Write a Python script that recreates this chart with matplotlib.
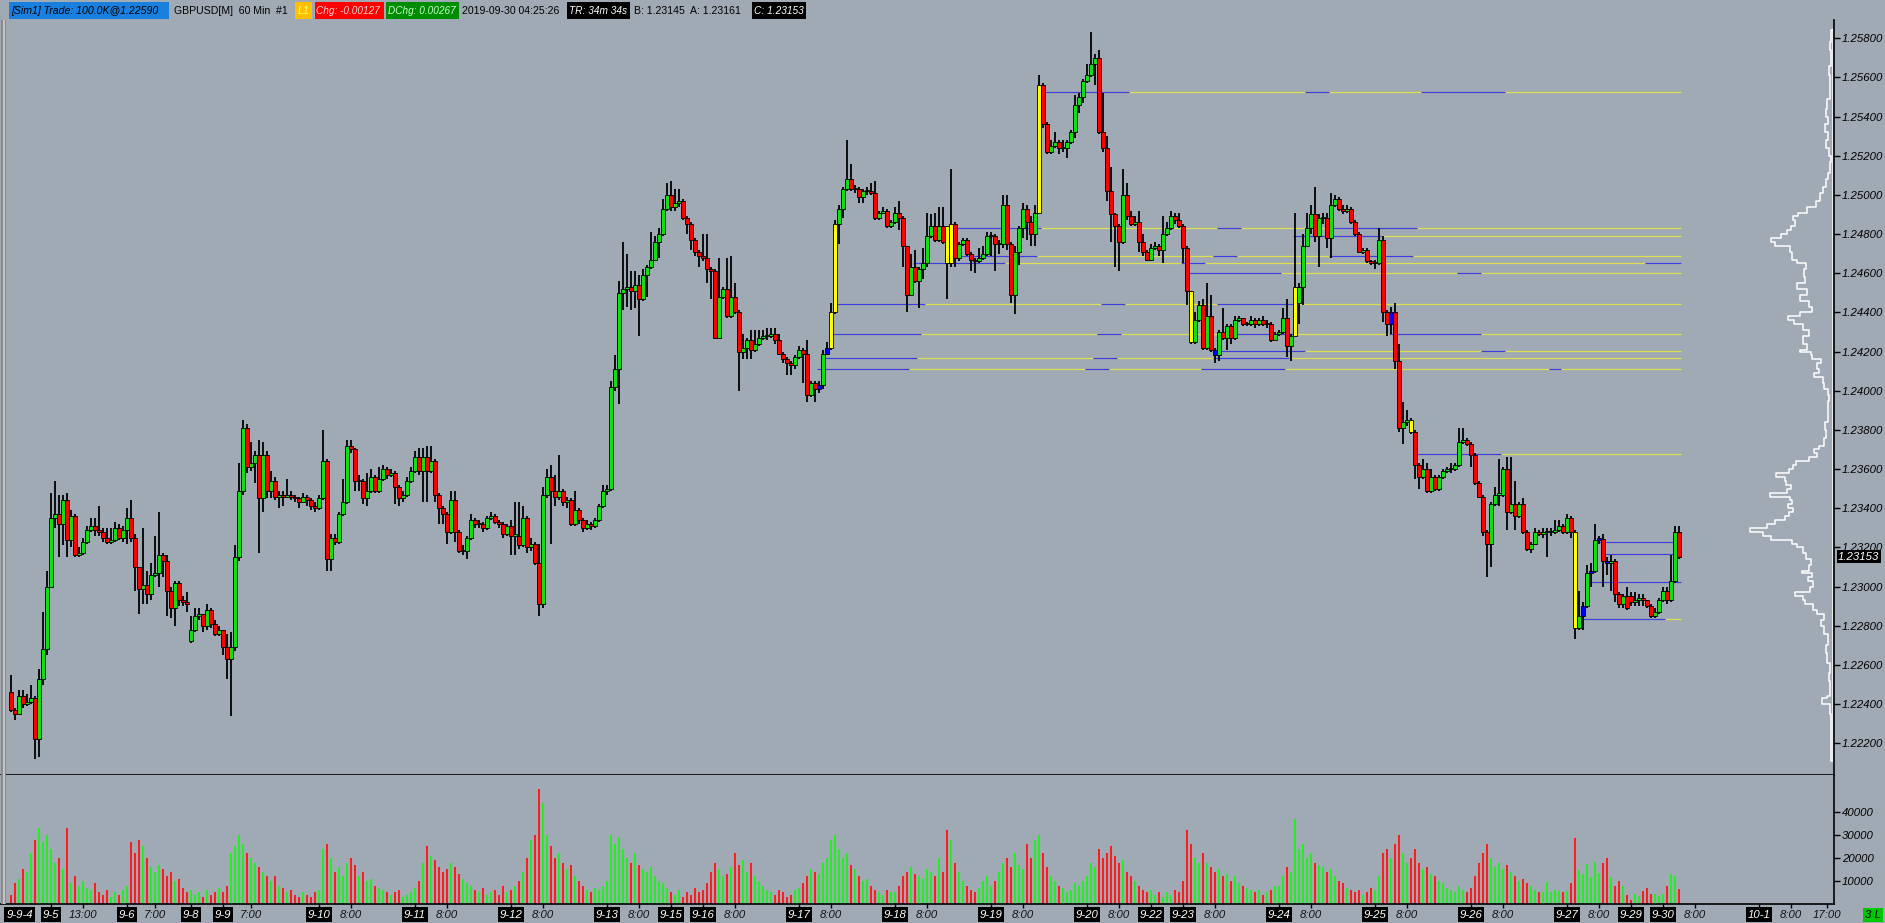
import numpy as np
import matplotlib.pyplot as plt
from matplotlib.patches import Rectangle

plt.rcParams['font.family'] = ['Liberation Sans', 'DejaVu Sans']

W, H = 1885, 923
BG = '#a0aab4'
GREEN = '#10e010'
RED = '#ff0000'
VGREEN = '#22ee22'
VRED = '#ff1c1c'

# ---- hourly GBPUSD bars, in pips above 1.20000 ----
close_p = [
    # 9-4
    237, 235, 244, 240, 241, 243, 222, 253, 268, 300,
    # 9-5
    335, 337, 332, 344, 324, 336, 316, 317, 323, 329, 331, 329, 328, 325, 323, 324, 330, 325, 329,
    # 9-6
    335, 325, 310, 299, 301, 296, 306, 307, 316, 313, 298, 289, 302, 293, 292, 291,
    # 9-8
    278, 285, 286, 280, 288, 281, 276, 278,
    # 9-9
    269, 263, 269, 315, 349, 381, 361, 363, 367, 345, 367, 349, 354, 346, 347, 346, 347, 346, 345, 343, 346, 344, 341, 340,
    # 9-10
    345, 364, 314, 325, 323, 337, 343, 372, 370, 354, 354, 345, 349, 356, 349, 355, 360, 357, 358, 351, 345, 347, 354, 359,
    # 9-11
    366, 359, 366, 359, 364, 347, 340, 337, 328, 344, 328, 318, 318, 325, 334, 332, 332, 330, 335, 336, 333, 332, 327, 331,
    # 9-12
    326, 326, 321, 335, 320, 322, 312, 291, 347, 356, 349, 346, 349, 343, 344, 332, 339, 334, 330, 332, 331, 334, 341, 349,
    # 9-13
    350, 402, 411, 450, 452, 453, 451, 454, 447, 459, 463, 467, 476, 480, 493, 500,
    # 9-15
    494, 496, 497, 488, 485, 477, 471, 469,
    # 9-16
    468, 462, 461, 427, 448, 452, 438, 448, 440, 420, 422, 426, 421, 424, 427, 428, 428, 429, 426, 419, 416, 414, 413, 417,
    # 9-17
    421, 419, 398, 404, 401, 403, 419, 422, 440, 485, 493, 503, 508, 503, 503, 499, 502, 502, 501, 488, 491, 492, 484, 486,
    # 9-18
    491, 488, 474, 449, 463, 456, 462, 465, 479, 484, 477, 484, 476, 465, 485, 468, 475, 477, 470, 467, 466, 468, 470, 479,
    # 9-19
    479, 475, 475, 495, 475, 449, 471, 483, 493, 486, 480, 491, 556, 536, 522, 525, 527, 524, 524, 527, 532, 546, 550, 558,
    # 9-20
    561, 567, 570, 532, 524, 502, 490, 484, 476, 500, 489, 485, 486, 476, 471, 467,
    # 9-22
    473, 474, 472, 480, 483, 489, 487, 484,
    # 9-23
    473, 451, 425, 436, 444, 422, 438, 421, 418, 430, 427, 433, 427, 436, 437, 434, 434, 436, 434, 436, 434, 434, 426, 429,
    # 9-24
    430, 437, 423, 428, 453, 453, 474, 483, 490, 479, 488, 488, 478, 495, 498, 493, 492, 493, 486, 480, 471, 472, 466, 465,
    # 9-25
    465, 477, 440, 434, 440, 415, 381, 384, 385, 379, 362, 356, 360, 349, 356, 350, 356, 359, 360, 360, 362, 374, 375, 373,
    # 9-26
    367, 353, 346, 328, 322, 342, 347, 347, 360, 338, 342, 336, 342, 328, 319, 322, 328, 327, 328, 328, 328, 329, 331, 328,
    # 9-27
    335, 328, 279, 285, 290, 307, 308, 324, 324.4, 313, 312, 313, 296, 291, 295, 289,
    # 9-29
    292, 293, 294, 293, 290, 285, 287, 293,
    # 9-30
    298, 293, 303, 328, 315.3,
]
high_p = [
    255, 238, 247, 247, 245, 250, 244, 258, 287, 308,
    348, 354, 347, 347, 348, 339, 337, 320, 325, 331, 335, 335, 341, 330, 330, 330, 333, 332, 331,
    340, 344, 327, 310, 330, 308, 312, 326, 338, 317, 316, 300, 303, 303, 295, 297,
    285, 289, 289, 286, 291, 289, 283, 280,
    278, 276, 277, 321, 363, 385, 383, 374, 369, 375, 374, 369, 359, 356, 349, 349, 355, 349, 347, 346, 348, 347, 345, 343,
    347, 380, 365, 327, 327, 338, 355, 375, 375, 371, 357, 355, 358, 360, 357, 361, 362, 361, 360, 359, 352, 349, 356, 361,
    369, 371, 371, 372, 372, 365, 348, 341, 338, 349, 349, 329, 321, 326, 337, 335, 334, 333, 336, 338, 337, 334, 333, 332,
    334, 343, 343, 341, 336, 325, 323, 322, 351, 360, 362, 357, 367, 350, 346, 345, 349, 340, 335, 334, 333, 335, 342, 352,
    352, 405, 418, 456, 476, 470, 461, 461, 459, 462, 464, 481, 479, 483, 498, 506,
    507, 503, 503, 498, 489, 486, 478, 472,
    480, 480, 463, 462, 468, 453, 468, 469, 455, 441, 429, 427, 431, 431, 431, 431, 432, 432, 432, 429, 420, 417, 415, 418,
    423, 422, 426, 405, 405, 405, 421, 425, 445, 487, 495, 504, 528, 516, 505, 504, 503, 504, 506, 507, 492, 494, 493, 487,
    494, 497, 489, 474, 470, 472, 463, 473, 491, 490, 491, 494, 494, 484, 513, 486, 476, 478, 478, 471, 468, 473, 474, 481,
    481, 480, 477, 500, 500, 476, 474, 484, 496, 495, 489, 495, 561, 557, 537, 528, 532, 528, 528, 528, 533, 551, 552, 559,
    567, 583, 572, 574, 552, 530, 514, 491, 485, 513, 506, 492, 489, 492, 480, 472,
    475, 476, 475, 489, 486, 492, 491, 491,
    485, 474, 451, 440, 446, 447, 455, 449, 422, 431, 442, 434, 434, 438, 438, 437, 435, 438, 437, 437, 438, 436, 435, 430,
    431, 442, 447, 429, 491, 455, 480, 491, 495, 504, 490, 491, 491, 501, 500, 499, 495, 495, 494, 487, 481, 473, 473, 467,
    467, 483, 479, 441, 443, 445, 424, 394, 390, 386, 380, 363, 365, 363, 360, 357, 357, 360, 361, 363, 363, 381, 381, 376,
    374, 368, 354, 347, 329, 343, 351, 365, 361, 366, 366, 354, 343, 345, 329, 323, 330, 329, 330, 330, 330, 334, 334, 332,
    337, 336, 329, 298, 292, 311, 312, 332, 326, 327, 315, 316, 314, 297, 296, 300,
    297, 297, 296, 296, 293, 291, 289, 294,
    300, 300, 316, 331, 331,
]
low_p = [
    236, 232, 235, 238, 239, 240, 212, 213, 250, 265,
    300, 330, 315, 321, 315, 320, 315, 315, 316, 322, 328, 326, 326, 323, 322, 322, 323, 324, 323,
    322, 323, 298, 286, 291, 291, 293, 305, 300, 305, 285, 284, 280, 290, 290, 287,
    271, 277, 283, 277, 278, 279, 275, 275,
    265, 253, 234, 267, 313, 347, 358, 359, 353, 317, 338, 345, 345, 344, 340, 341, 345, 344, 343, 340, 343, 341, 339, 338,
    339, 344, 308, 308, 321, 322, 336, 342, 368, 349, 349, 342, 341, 348, 348, 348, 354, 355, 356, 342, 341, 343, 346, 353,
    358, 357, 343, 343, 358, 343, 332, 332, 322, 327, 323, 317, 316, 314, 324, 330, 330, 328, 329, 334, 332, 330, 325, 326,
    316, 316, 319, 320, 317, 318, 311, 285, 289, 345, 322, 341, 344, 341, 340, 331, 331, 332, 328, 329, 329, 330, 333, 340,
    347, 349, 400, 393, 441, 443, 441, 442, 428, 446, 448, 462, 468, 468, 479, 492,
    492, 492, 494, 487, 480, 472, 469, 463,
    466, 455, 447, 427, 427, 447, 437, 437, 439, 400, 416, 416, 416, 420, 423, 426, 426, 427, 424, 418, 414, 408, 408, 411,
    416, 404, 394, 397, 394, 399, 401, 418, 421, 439, 475, 488, 502, 502, 501, 496, 496, 500, 500, 487, 487, 490, 483, 483,
    485, 482, 463, 440, 449, 455, 442, 457, 463, 478, 476, 476, 475, 447, 463, 463, 466, 474, 469, 461, 460, 465, 467, 469,
    469, 461, 470, 473, 472, 445, 439, 464, 478, 477, 474, 474, 490, 534, 521, 521, 524, 521, 522, 519, 526, 529, 542, 547,
    557, 560, 556, 531, 522, 497, 476, 463, 461, 475, 487, 484, 484, 471, 469, 466,
    466, 472, 469, 465, 479, 482, 485, 483,
    465, 444, 424, 424, 435, 421, 421, 420, 414, 415, 426, 421, 424, 426, 435, 433, 433, 433, 432, 433, 433, 432, 425, 426,
    428, 429, 417, 415, 428, 434, 444, 474, 480, 476, 463, 485, 473, 468, 494, 492, 490, 491, 485, 479, 471, 470, 465, 464,
    462, 464, 435, 428, 429, 411, 379, 373, 382, 378, 355, 350, 355, 348, 348, 349, 349, 355, 358, 358, 359, 361, 373, 372,
    361, 352, 345, 326, 305, 310, 341, 341, 346, 329, 337, 329, 335, 327, 318, 317, 321, 326, 325, 315, 326, 327, 328, 327,
    327, 325, 273, 278, 278, 289, 300, 307, 322, 300, 306, 298, 292, 289, 289, 288,
    290, 290, 290, 290, 289, 284, 284, 286,
    292, 291, 292, 302, 314,
]
# opens differ from the previous close only at these bars
open_gap = {0: 246, 45: 272, 234: 484, 322: 445, 405: 295}
yellow_bars = [205, 206, 234, 235, 257, 295, 321, 350, 391]
blue_bars = [202, 204, 301, 345, 393, 395, 397, 399]

# volume, thousands of contracts per bar
volume_k = [
    4, 9, 11, 15, 14, 22, 28, 33, 27, 30,
    24, 18, 20, 15, 33, 9, 12, 8, 10, 7, 6, 9, 5, 4, 6, 3, 5, 4, 6,
    8, 27, 22, 28, 25, 20, 16, 14, 17, 15, 12, 14, 10, 11, 7, 5,
    6, 4, 5, 3, 6, 4, 5, 7,
    5, 8, 22, 25, 30, 26, 22, 20, 18, 16, 14, 12, 10, 12, 8, 7, 5, 6, 4, 3, 5, 4, 3, 5,
    6, 24, 26, 20, 14, 16, 12, 18, 20, 17, 12, 14, 10, 11, 8, 7, 6, 5, 4, 5, 6, 3, 4, 5,
    7, 10, 18, 25, 21, 19, 16, 14, 15, 18, 16, 13, 11, 9, 8, 6, 5, 7, 4, 5, 6, 4, 8, 5,
    6, 8, 10, 14, 20, 28, 30, 50, 44, 30, 25, 20, 22, 18, 15, 17, 12, 10, 8, 6, 5, 7, 6, 8,
    10, 30, 26, 29, 24, 20, 18, 22, 17, 15, 14, 16, 12, 10, 9, 7,
    5, 4, 6, 3, 5, 4, 7, 5,
    6, 9, 14, 18, 15, 12, 13, 16, 22, 17, 19, 14, 18, 12, 10, 8, 6, 5, 4, 6, 5, 3, 4, 6,
    7, 9, 12, 15, 14, 13, 18, 20, 28, 30, 24, 20, 22, 17, 15, 12, 10, 11, 8, 6, 5, 4, 6, 5,
    5, 8, 12, 14, 16, 13, 12, 11, 15, 14, 12, 20, 14, 32, 28, 18, 14, 10, 8, 6, 5, 7, 10, 12,
    8, 10, 14, 18, 20, 16, 22, 17, 15, 26, 20, 28, 30, 22, 16, 12, 10, 8, 7, 5, 6, 9, 8, 10,
    12, 18, 16, 24, 20, 22, 25, 21, 18, 19, 14, 12, 10, 8, 6, 5,
    6, 4, 5, 3, 5, 4, 6, 5,
    10, 32, 26, 20, 18, 22, 18, 16, 14, 15, 12, 13, 10, 12, 9, 8, 7, 6, 5, 6, 4, 5, 6, 8,
    8, 12, 16, 14, 37, 24, 26, 20, 22, 18, 17, 16, 14, 15, 12, 10, 9, 7, 6, 5, 6, 4, 5, 7,
    6, 12, 22, 24, 20, 26, 30, 22, 18, 20, 24, 18, 15, 16, 13, 12, 10, 9, 7, 6, 5, 8, 6, 5,
    7, 12, 18, 22, 26, 20, 16, 18, 15, 17, 14, 12, 10, 11, 9, 8, 6, 5,
    5.2, 9.6, 5.2, 6.2, 5.6, 5.1, 5.5, 9.0, 28.6, 14.7, 13.0, 17.3, 11.6, 18.1, 13.4, 17.7, 19.9, 11.6,
    7.7, 9.9, 7.9, 3.8, 1.6, 4.2, 3.3, 5.5, 6.8, 4.2, 4.2, 3.3, 4.5, 7.9, 13.0, 12.3, 6.4,
]

# horizontal level lines: pips, first bar, blue stretches
level_pips = [552.5, 483.0, 478.8, 468.6, 465.2, 460.0, 444.2, 428.8,
              420.1, 416.6, 411.0, 367.6, 322.7, 316.6, 302.3, 283.5]
level_start = [257, 235, 321, 234, 226, 295, 206, 205, 302, 204, 202, 351, 397, 399, 395, 391]
level_blue = [
    [(257, 279), (324, 329), (353, 373)],
    [(235, 257), (302, 307), (331, 351)],
    [(321, 342)],
    [(234, 256), (301, 306), (330, 350)],
    [(226, 248), (293, 298), (409, 417)],
    [(295, 317), (362, 367)],
    [(206, 228), (273, 278), (302, 321)],
    [(205, 227), (272, 277), (306, 320), (345, 367)],
    [(302, 323), (368, 373)],
    [(204, 226), (271, 276), (301, 319)],
    [(202, 224), (269, 274), (298, 318), (385, 387)],
    [(351, 372)],
    [(397, 417)],
    [(399, 417)],
    [(395, 417)],
    [(391, 413)],
]

# volume-at-price profile on the right: (low pips, high pips, width px)
profile = [
    (211, 235, 1.7), (235, 240, 3), (240, 243, 10.7), (243, 244, 6), (244, 252, 2.7),
    (252, 256, 3.3), (256, 261, 2.3), (261, 266, 5.7), (266, 270, 7), (270, 276, 4.7),
    (276, 280, 9), (280, 283, 11.5), (283, 286, 8.5), (286, 288, 16), (288, 291, 20),
    (291, 293, 27.3), (293, 295, 30), (295, 297, 37.3), (297, 300, 23), (300, 303, 19.5),
    (303, 305, 25), (305, 307, 21), (307, 308, 30.7), (308, 311, 24), (311, 314, 22),
    (314, 317, 27), (317, 320, 30), (320, 322, 36), (322, 324, 41), (324, 326, 62),
    (326, 328, 70), (328, 330, 83), (330, 332, 66), (332, 334, 58), (334, 336, 48),
    (336, 338, 44), (338, 340, 40), (340, 342, 45), (342, 344, 41), (344, 346, 43),
    (346, 348, 63), (348, 350, 46), (350, 352, 42), (352, 354, 47), (354, 356, 48),
    (356, 358, 57), (358, 360, 44), (360, 362, 40), (362, 364, 37), (364, 366, 24),
    (366, 368, 16), (368, 370, 19), (370, 372, 14), (372, 376, 9), (376, 380, 6.5),
    (380, 384, 8), (384, 388, 5), (388, 395, 4.5), (395, 398, 3.2), (398, 401, 4.5),
    (401, 404, 8.3), (404, 407, 10), (407, 409, 19), (409, 411, 14), (411, 414, 16),
    (414, 416, 12), (416, 418, 20.7), (418, 420, 22), (420, 421, 33), (421, 424, 26),
    (424, 428, 30), (428, 431, 24), (431, 434, 30), (434, 436, 39), (436, 438, 45),
    (438, 440, 33), (440, 443, 21), (443, 446, 24), (446, 449, 33), (449, 452, 26),
    (452, 455, 36), (455, 458, 28), (458, 462, 29), (462, 465, 27), (465, 467, 35.7),
    (467, 471, 41), (471, 474, 43), (474, 476, 58), (476, 478, 62), (478, 480, 52),
    (480, 482, 46), (482, 484, 42), (484, 487, 38), (487, 489, 40), (489, 491, 35),
    (491, 494, 25.7), (494, 497, 16.7), (497, 501, 12.3), (501, 504, 10), (504, 508, 6.3),
    (508, 511, 5), (511, 517, 3), (517, 520, 2), (520, 524, 4), (524, 528, 6.5),
    (528, 532, 5), (532, 536, 8), (536, 540, 4.5), (540, 544, 6.5), (544, 549, 5.7),
    (549, 561, 2.3), (561, 566, 3.7), (566, 574, 1.5), (574, 578, 2.5), (578, 584, 1.5),
]

tick_idx = [-1.2, 10, 18, 29, 36, 45, 53, 60, 77, 85, 101, 109, 125, 133, 149, 157, 165, 173, 181,
            197, 205, 221, 229, 245, 253, 269, 277, 285, 293, 301, 317, 325, 341, 349, 365, 373,
            389, 397, 405, 413, 421, 437, 445, 454]
tick_txt = ['9-9-4', '9-5', '13:00', '9-6', '7:00', '9-8', '9-9', '7:00', '9-10', '8:00', '9-11', '8:00',
            '9-12', '8:00', '9-13', '8:00', '9-15', '9-16', '8:00', '9-17', '8:00', '9-18', '8:00',
            '9-19', '8:00', '9-20', '8:00', '9-22', '9-23', '8:00', '9-24', '8:00', '9-25', '8:00',
            '9-26', '8:00', '9-27', '8:00', '9-29', '9-30', '8:00', '10-1', '8:00', '17:00']

last_price = 1.23153

assert len(close_p) == len(high_p) == len(low_p) == len(volume_k) == 418, (
    len(close_p), len(high_p), len(low_p), len(volume_k))

# ---- prepare ----
n = len(close_p)
x = np.arange(n)
c = 1.2 + np.array(close_p) / 1e4
op = [open_gap.get(0, close_p[0])] + close_p[:-1]
for k, v in open_gap.items():
    op[k] = v
o = 1.2 + np.array(op) / 1e4
hi = np.maximum(1.2 + np.array(high_p) / 1e4, np.maximum(o, c))
lo = np.minimum(1.2 + np.array(low_p) / 1e4, np.minimum(o, c))
up = c >= o
body_col = np.where(up, GREEN, RED).astype(object)
for b in yellow_bars:
    body_col[b] = '#ffff00'
for b in blue_bars:
    body_col[b] = '#0000ff'
vol = np.array(volume_k) * 1000


def px_box(x0, y0, x1, y1):
    return [x0 / W, 1 - y1 / H, (x1 - x0) / W, (y1 - y0) / H]


fig = plt.figure(figsize=(W / 100, H / 100), dpi=100)
fig.patch.set_facecolor(BG)

XL = (-2.75, 455.75)
YL = (1.22038, 1.25893)

# ---- price panel ----
ax = fig.add_axes(px_box(0, 20, 1834, 775))
ax.set_facecolor(BG)
ax.set_xlim(*XL)
ax.set_ylim(*YL)

for lev, st, blues in zip(level_pips, level_start, level_blue):
    yv = 1.2 + lev / 1e4
    ax.hlines(yv, st - 0.4, n - 0.6, color='#dede50', lw=0.9, zorder=1.5)
    for a, b in blues:
        ax.hlines(yv, a - 0.4, b + 0.4, color='#3c3ce6', lw=0.9, zorder=1.6)

ax.vlines(x, lo, hi, color='black', lw=1.3, zorder=2)
body_h = np.maximum(np.abs(c - o), 0.00006)
ax.bar(x, body_h, bottom=np.minimum(o, c), width=0.8, color=list(body_col),
       edgecolor='black', linewidth=0.6, zorder=3)

yt = np.arange(1.222, 1.2581, 0.002)
ax.set_yticks(yt)
ax.set_yticklabels(['%.5f' % v for v in yt])
ax.yaxis.tick_right()
ax.tick_params(axis='y', direction='out', length=4, width=1, pad=1.5,
               labelsize=8.2, colors='black')
for lab in ax.get_yticklabels():
    lab.set_fontstyle('italic')
ax.set_xticks([])
for s in ['left', 'top']:
    ax.spines[s].set_visible(False)
for s in ['right', 'bottom']:
    ax.spines[s].set_linewidth(1.2)
    ax.spines[s].set_color('black')

ax.text(1.0 + 4 / 1834, last_price, '%.5f' % last_price, transform=ax.get_yaxis_transform(),
        ha='left', va='center', fontsize=8.2, fontstyle='italic', color='white',
        bbox=dict(boxstyle='square,pad=0.12', fc='black', ec='none'), zorder=10, clip_on=False)

# ---- volume profile ----
axp = fig.add_axes(px_box(1740, 20, 1832.5, 775))
axp.set_xlim(92.5, 0)
axp.set_ylim(*YL)
axp.axis('off')
axp.patch.set_alpha(0)
segs = sorted(profile, key=lambda s: -s[1])
px_ = [0]
py_ = [1.2 + segs[0][1] / 1e4]
for lo_, hi_, w_ in segs:
    px_ += [w_, w_]
    py_ += [1.2 + hi_ / 1e4, 1.2 + lo_ / 1e4]
px_ += [0, 0]
py_ += [1.2 + segs[-1][0] / 1e4, 1.2 + segs[0][1] / 1e4]
axp.plot(px_, py_, color='white', lw=1.1)

# ---- volume panel ----
ax2 = fig.add_axes(px_box(0, 775, 1834, 904))
ax2.set_facecolor(BG)
ax2.set_xlim(*XL)
ax2.set_ylim(0, 56000)
ax2.bar(x, vol, width=0.5, color=np.where(up, VGREEN, VRED))
ax2.yaxis.tick_right()
ax2.set_yticks([10000, 20000, 30000, 40000])
ax2.set_yticklabels(['10000', '20000', '30000', '40000'])
ax2.tick_params(axis='y', direction='out', length=4, width=1, pad=1.5,
                labelsize=8.2, colors='black')
for lab in ax2.get_yticklabels():
    lab.set_fontstyle('italic')
ax2.set_xticks([t for t in tick_idx if t >= 0])
ax2.set_xticklabels([])
ax2.tick_params(axis='x', direction='out', length=3, width=1, colors='black')
for s in ['left', 'top']:
    ax2.spines[s].set_visible(False)
for s in ['right', 'bottom']:
    ax2.spines[s].set_linewidth(1.2)
    ax2.spines[s].set_color('black')

ty = (904 - 914.5) / 129
xt = ax2.get_xaxis_transform()
for ti, tt in zip(tick_idx, tick_txt):
    is_date = '-' in tt
    ha = 'left' if ti < 0 else 'center'
    if is_date:
        ax2.text(ti, ty, tt, transform=xt, ha=ha, va='center', fontsize=8.2,
                 fontstyle='italic', color='white', clip_on=False,
                 bbox=dict(boxstyle='square,pad=0.18', fc='black', ec='none'))
    else:
        ax2.text(ti, ty, tt, transform=xt, ha=ha, va='center', fontsize=8.2,
                 fontstyle='italic', color='#111111', clip_on=False)

# ---- header strip ----
axh = fig.add_axes([0, 1 - 20 / H, 1, 20 / H])
axh.set_xlim(0, W)
axh.set_ylim(20, 0)
axh.axis('off')
for x0, x1, col in [(9, 169, '#1a80e0'), (295, 312, '#ffc000'), (315, 384, '#ff0000'),
                    (386, 459, '#008c00'), (567, 630, 'black'), (752, 806, 'black')]:
    axh.add_patch(Rectangle((x0, 2), x1 - x0, 17, fc=col, ec='none'))
header = [
    (11, '[Sim1] Trade: 100.0K@1.22590', 'black', 'italic', 7.6),
    (174, 'GBPUSD[M]  60 Min  #1', 'black', 'normal', 7.6),
    (298, 'L1', '#ffff70', 'italic', 7.6),
    (316.5, 'Chg: -0.00127', '#ffd8d8', 'italic', 7.2),
    (387.5, 'DChg: 0.00267', '#c8ffc8', 'italic', 7.2),
    (462, '2019-09-30 04:25:26', 'black', 'normal', 7.6),
    (569, 'TR: 34m 34s', 'white', 'italic', 7.3),
    (634, 'B: 1.23145  A: 1.23161', 'black', 'normal', 7.6),
    (754, 'C: 1.23153', 'white', 'italic', 7.3),
]
for hx, ht, hc, hs, hf in header:
    axh.text(hx, 10.8, ht, color=hc, fontstyle=hs, fontsize=hf, va='center', ha='left')

# left frame bar and the "3 L" box
fig.add_artist(Rectangle((1 / W, 1 - 904 / H), 5 / W, 884 / H, transform=fig.transFigure,
                         fc='#8a8a8a', ec='none'))
fig.add_artist(Rectangle((3 / W, 1 - 904 / H), 1.5 / W, 884 / H, transform=fig.transFigure,
                         fc='#c4c4c4', ec='none'))
fig.add_artist(Rectangle((1863 / W, 1 - 922 / H), 20 / W, 14 / H, transform=fig.transFigure,
                         fc='#00c800', ec='none'))
fig.text(1873 / W, 1 - 915 / H, '3 L', ha='center', va='center', fontsize=8.2,
         fontstyle='italic', color='black')

fig.savefig('out.png', dpi=100, facecolor=BG)
